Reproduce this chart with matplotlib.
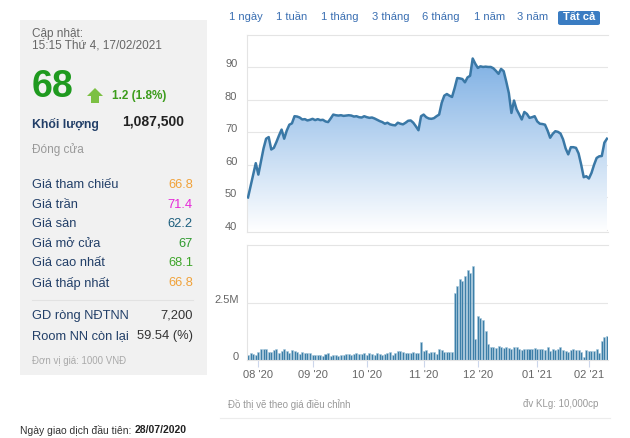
import numpy as np
import pandas as pd
import matplotlib
matplotlib.use("Agg")
import matplotlib.pyplot as plt
from matplotlib.patches import Rectangle, FancyBboxPatch, Polygon
from matplotlib.transforms import ScaledTranslation

plt.rcParams['font.family'] = ['Liberation Sans', 'DejaVu Sans']

# trading days 28/07/2020 -> 17/02/2021 (Vietnam holidays removed)
holidays = ['2020-09-02', '2021-01-01', '2021-02-10', '2021-02-11', '2021-02-12',
            '2021-02-15', '2021-02-16']
days = pd.bdate_range('2020-07-28', '2021-02-17')
days = days[~days.isin(pd.to_datetime(holidays))]

price = [50, 53.5, 57, 60.5, 57, 61, 65, 68, 68.5, 64.7,
         65.2, 67, 69, 70.8, 68, 70.5, 72.3, 72.7, 74.9, 74.8,
         74.5, 73.9, 74, 73.6, 73.8, 74.1, 73.7, 74, 73.7, 73.8,
         73.3, 73.1, 74.2, 75.4, 75.2, 75.1, 75.2, 75, 75.1, 75.2,
         75.1, 74.8, 74.9, 74.6, 74.5, 74.9, 74.6, 74.4, 74.5, 74.2,
         73.8, 73.4, 73.1, 72.6, 72.9, 72.4, 72.2, 72.1, 72.9, 72.6,
         72.4, 72.9, 73.5, 73.6, 72.9, 71.8, 70.6, 74.9, 75.4, 74.6,
         74.2, 74.1, 74.3, 74.9, 75.4, 79, 81.2, 81.7, 81.2, 80.8,
         83.5, 86.6, 86.5, 86.3, 85.3, 86.8, 87.3, 92.6, 91, 89.7,
         90.2, 90, 90.1, 90, 90, 89.6, 88.8, 87.9, 89.4, 88.7,
         85.5, 82, 75.9, 79.7, 77, 75.5, 73.9, 76.2, 75.6, 74.4,
         74.6, 74.9, 73.3, 72.6, 72.5, 72.3, 70.5, 68.3, 69.5, 70.3,
         70.1, 69.6, 67.8, 65, 63.2, 65.4, 65.4, 65.2, 63.5, 60.1,
         56.2, 56.5, 55.8, 57.5, 60, 62.1, 62.6, 62.7, 66.8, 68]

volume_m = [0.22, 0.3, 0.28, 0.22, 0.35, 0.47, 0.47, 0.47, 0.36, 0.36,
            0.45, 0.47, 0.3, 0.38, 0.47, 0.4, 0.3, 0.44, 0.38, 0.33,
            0.28, 0.36, 0.3, 0.32, 0.3, 0.2, 0.22, 0.22, 0.2, 0.18,
            0.26, 0.3, 0.18, 0.2, 0.22, 0.18, 0.2, 0.23, 0.26, 0.28,
            0.24, 0.28, 0.3, 0.28, 0.26, 0.3, 0.24, 0.32, 0.28, 0.22,
            0.3, 0.28, 0.2, 0.26, 0.3, 0.35, 0.22, 0.3, 0.38, 0.38,
            0.36, 0.3, 0.32, 0.3, 0.34, 0.3, 0.3, 0.8, 0.38, 0.44,
            0.32, 0.36, 0.35, 0.28, 0.5, 0.42, 0.34, 0.34, 0.35, 0.34,
            2.95, 3.25, 3.55, 3.45, 3.68, 3.95, 3.82, 4.1, 0.9, 1.95,
            1.85, 1.75, 1.25, 0.68, 0.58, 0.56, 0.54, 0.6, 0.56, 0.54,
            0.58, 0.52, 0.5, 0.55, 0.58, 0.5, 0.45, 0.5, 0.48, 0.5,
            0.5, 0.52, 0.5, 0.48, 0.5, 0.45, 0.55, 0.38, 0.5, 0.45,
            0.48, 0.55, 0.42, 0.4, 0.36, 0.42, 0.48, 0.45, 0.44, 0.36,
            0.15, 0.45, 0.38, 0.38, 0.4, 0.5, 0.3, 0.85, 1.0, 1.03]

ranges = ['1 ngày', '1 tuần', '1 tháng', '3 tháng', '6 tháng', '1 năm', '3 năm']
range_x = [246, 292, 340, 391, 441, 490, 533]

info_labels = ['Giá tham chiếu', 'Giá trần', 'Giá sàn', 'Giá mở cửa', 'Giá cao nhất', 'Giá thấp nhất']
info_values = ['66.8', '71.4', '62.2', '67', '68.1', '66.8']
info_colors = ['#f0a23a', '#e62ad8', '#1d5f7e', '#2f9a2f', '#3ea52a', '#f0a23a']

W, H = 630, 438
fig = plt.figure(figsize=(6.3, 4.38), dpi=100)
fig.patch.set_facecolor('white')

def fx(x):
    return x / W

def fy(y):
    return 1 - y / H

# left info panel
fig.patches.append(Rectangle((fx(20), fy(375)), fx(187), 355 / H, transform=fig.transFigure,
                             facecolor='#f1f1f1', edgecolor='none', zorder=0))
lab_col = '#223f68'
fig.text(fx(32), fy(34), 'Cập nhật:', fontsize=8.5, color='#666666', va='center')
fig.text(fx(32), fy(46), '15:15 Thứ 4, 17/02/2021', fontsize=8.5, color='#666666', va='center')
fig.text(fx(32), fy(87), '68', fontsize=27, color='#1f9a1f', fontweight='bold', va='center')
arrow = [(95, 88), (103, 96), (99, 96), (99, 103), (91, 103), (91, 96), (87, 96)]
fig.patches.append(Polygon([(fx(a), fy(b)) for a, b in arrow], closed=True, transform=fig.transFigure,
                           facecolor='#7cc043', edgecolor='none'))
fig.text(fx(112), fy(96), '1.2 (1.8%)', fontsize=8.5, color='#3c9c1c', fontweight='bold', va='center')
fig.text(fx(32), fy(124), 'Khối lượng', fontsize=8.8, color=lab_col, fontweight='bold', va='center')
fig.text(fx(184), fy(122), '1,087,500', fontsize=10, color='#222222', fontweight='bold', va='center', ha='right')
fig.text(fx(32), fy(150), 'Đóng cửa', fontsize=8.5, color='#999999', va='center')

for k, (lab, val, col) in enumerate(zip(info_labels, info_values, info_colors)):
    yy = 185 + k * 19.6
    fig.text(fx(32), fy(yy), lab, fontsize=9.3, color=lab_col, va='center')
    fig.text(fx(193), fy(yy), val, fontsize=9.3, color=col, va='center', ha='right')

fig.add_artist(plt.Line2D([fx(32), fx(193)], [fy(300), fy(300)], color='#e2e2e2', lw=0.8))
fig.text(fx(32), fy(316), 'GD ròng NĐTNN', fontsize=9.3, color=lab_col, va='center')
fig.text(fx(193), fy(316), '7,200', fontsize=9.3, color='#333333', va='center', ha='right')
fig.text(fx(32), fy(336), 'Room NN còn lại', fontsize=9.3, color=lab_col, va='center')
fig.text(fx(193), fy(336), '59.54 (%)', fontsize=9.3, color='#333333', va='center', ha='right')
fig.text(fx(32), fy(361), 'Đơn vị giá: 1000 VNĐ', fontsize=7, color='#aaaaaa', va='center')

# range buttons
for name, xx in zip(ranges, range_x):
    fig.text(fx(xx), fy(17), name, fontsize=8, color='#3a6fb2', va='center', ha='center')
fig.patches.append(FancyBboxPatch((fx(558), fy(25)), fx(42), 14 / H, transform=fig.transFigure,
                                  boxstyle='round,pad=0,rounding_size=0.004',
                                  facecolor='#3a7cc2', edgecolor='none'))
fig.text(fx(579), fy(17.5), 'Tất cả', fontsize=8, color='white', fontweight='bold', va='center', ha='center')

# price chart
x = np.arange(len(price))
ax1 = fig.add_axes([fx(247), fy(232), fx(361), 197 / H])
ax1.set_xlim(-0.4, len(price) - 0.6)
ax1.set_ylim(39.4, 99.8)
grad = np.linspace(1, 0, 256).reshape(-1, 1)
top = np.array([0.43, 0.65, 0.88])
bot = np.array([1.0, 1.0, 1.0])
img = top * grad[..., None] + bot * (1 - grad[..., None])
img = img.reshape(256, 1, 3)
fill = ax1.fill_between(x, price, 39.4, color='none')
im = ax1.imshow(img, extent=[-0.4, len(price) - 0.6, 39.4, 99.8], aspect='auto', zorder=1)
im.set_clip_path(fill.get_paths()[0], transform=ax1.transData)
ax1.plot(x, price, color='#3a78a6', lw=1.8, zorder=3)
ax1.set_yticks([40, 50, 60, 70, 80, 90])
ax1.yaxis.grid(True, color='#e6e6e6', lw=0.8)
ax1.set_axisbelow(True)
ax1.set_xticks([])
ax1.tick_params(axis='y', length=0, labelsize=8, labelcolor='#666666', pad=7)
for lbl in ax1.get_yticklabels():
    lbl.set_transform(lbl.get_transform() + ScaledTranslation(0, 4 / 100, fig.dpi_scale_trans))
ax1.spines['right'].set_visible(False)
for s in ['top', 'left', 'bottom']:
    ax1.spines[s].set_color('#e4e4e4')
    ax1.spines[s].set_linewidth(0.8)

# volume chart
ax2 = fig.add_axes([fx(247), fy(360), fx(361), 115 / H])
ax2.bar(x, np.array(volume_m) * 1e6, width=0.78, color='#3d7fa8', edgecolor='#a9c9dc', linewidth=0.4)
ax2.set_xlim(-0.4, len(price) - 0.6)
ax2.set_ylim(0, 5.04e6)
ax2.set_yticks([0, 2.5e6])
ax2.set_yticklabels(['0', '2.5M'])
ax2.yaxis.grid(True, color='#e6e6e6', lw=0.8)
ax2.set_axisbelow(True)
ax2.tick_params(axis='y', length=0, labelsize=8, labelcolor='#666666', pad=6)
for lbl in ax2.get_yticklabels():
    lbl.set_transform(lbl.get_transform() + ScaledTranslation(0, 4 / 100, fig.dpi_scale_trans))
month_pos = [i for i in range(1, len(days)) if days[i].month != days[i - 1].month]
ax2.set_xticks(month_pos)
ax2.set_xticklabels([days[i].strftime("%m '%y") for i in month_pos])
ax2.tick_params(axis='x', length=5, color='#ccd6eb', labelsize=8, labelcolor='#666666', pad=2)
ax2.spines['right'].set_visible(False)
for s in ['top', 'left', 'bottom']:
    ax2.spines[s].set_color('#e4e4e4')
    ax2.spines[s].set_linewidth(0.8)

# footer
fig.text(fx(228), fy(404), 'Đồ thị vẽ theo giá điều chỉnh', fontsize=7, color='#999999', va='center')
fig.text(fx(598), fy(404), 'đv KLg: 10,000cp', fontsize=7, color='#999999', va='center', ha='right')
fig.add_artist(plt.Line2D([fx(220), fx(610)], [fy(418), fy(418)], color='#ececec', lw=0.8))
first = fig.text(fx(20), fy(430), 'Ngày giao dịch đầu tiên:', fontsize=7.5, color='#333333', va='center')
fig.canvas.draw()
end_x = first.get_window_extent().x1
fig.text(end_x / W + fx(3), fy(430), '28/07/2020', fontsize=7.5, color='#222222', fontweight='bold', va='center')

fig.savefig('out.png', dpi=100)
